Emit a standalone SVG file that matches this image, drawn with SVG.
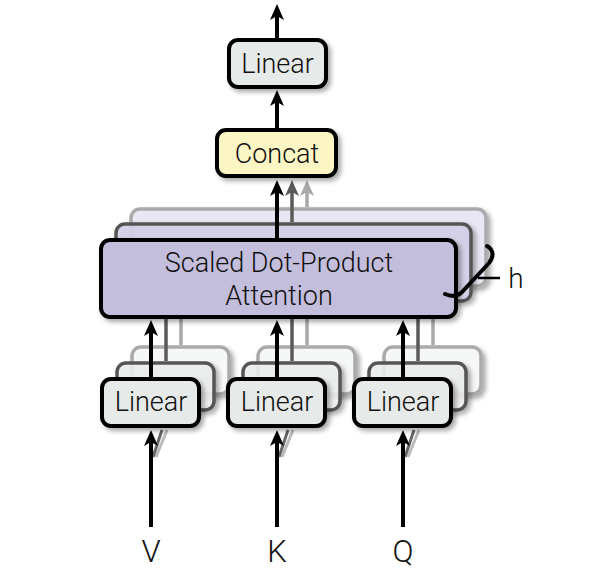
<svg xmlns="http://www.w3.org/2000/svg" width="598" height="584" viewBox="0 0 598 584">
<defs>
<filter id="sh" x="-10%" y="-10%" width="130%" height="140%">
<feGaussianBlur in="SourceAlpha" stdDeviation="2.5"/>
<feOffset dx="3" dy="3" result="b"/>
<feComponentTransfer><feFuncA type="linear" slope="0.35"/></feComponentTransfer>
<feMerge><feMergeNode/><feMergeNode in="SourceGraphic"/></feMerge>
</filter>
<marker id="ak" markerUnits="userSpaceOnUse" markerWidth="16" markerHeight="14" viewBox="0 -7 16 14" refX="8" refY="0" orient="auto"><path d="M0,-7 L16,0 L0,7 L4,0 Z" fill="#000"/></marker>
<marker id="ad" markerUnits="userSpaceOnUse" markerWidth="16" markerHeight="14" viewBox="0 -7 16 14" refX="8" refY="0" orient="auto"><path d="M0,-7 L16,0 L0,7 L4,0 Z" fill="#5a5a5a"/></marker>
<marker id="al" markerUnits="userSpaceOnUse" markerWidth="16" markerHeight="14" viewBox="0 -7 16 14" refX="8" refY="0" orient="auto"><path d="M0,-7 L16,0 L0,7 L4,0 Z" fill="#a8a8a8"/></marker>
</defs>
<style>
text{font-family:Roboto,"Liberation Sans",Arial,sans-serif;font-weight:300;fill:#111;text-anchor:middle}
.t{font-size:27px}
.lbl{font-size:31px}
.front{stroke:#000;stroke-width:4}
.mid{stroke:#555;stroke-width:3.5}
.back{stroke:#aaa;stroke-width:3.5}
.lin{fill:#e6ebe9}
.linm{fill:#eef1f0;fill-opacity:0.85}
.linb{fill:#f6f8f7}
.att{fill:#c4bedd}
.attm{fill:#d6d1ea;fill-opacity:0.9}
.attb{fill:#e9e7f3}
.k{stroke:#000;stroke-width:4;fill:none}
.d{stroke:#5a5a5a;stroke-width:3.5;fill:none}
.l{stroke:#a8a8a8;stroke-width:3.5;fill:none}
</style>
<rect width="598" height="584" fill="#fff"/>

<g id="attention-back">
<rect x="131" y="209" width="355" height="77" rx="9" class="back attb" filter="url(#sh)"/>
<rect x="116" y="224" width="355" height="77" rx="9" class="mid attm" filter="url(#sh)"/>
</g>

<g id="linear-back">
<rect x="132" y="347" width="97" height="47" rx="9" class="back linb" filter="url(#sh)"/>
<rect x="258" y="347" width="97" height="47" rx="9" class="back linb" filter="url(#sh)"/>
<rect x="384" y="347" width="97" height="47" rx="9" class="back linb" filter="url(#sh)"/>
<rect x="117" y="363" width="97" height="47" rx="9" class="mid linm" filter="url(#sh)"/>
<rect x="243" y="363" width="97" height="47" rx="9" class="mid linm" filter="url(#sh)"/>
<rect x="369" y="363" width="97" height="47" rx="9" class="mid linm" filter="url(#sh)"/>
</g>

<g id="connectors">
<path class="l" d="M181,345 V300"/>
<path class="d" d="M166,361 V300"/>
<path class="l" d="M307,345 V300"/>
<path class="d" d="M292,361 V300"/>
<path class="l" d="M433,345 V300"/>
<path class="d" d="M418,361 V300"/>
<path class="l" d="M307,207 V188" marker-end="url(#al)"/>
<path class="d" d="M292,222 V188" marker-end="url(#ad)"/>
<path class="k" d="M277,238 V188" marker-end="url(#ak)"/>
<path class="k" d="M277,128 V98" marker-end="url(#ak)"/>
<path class="k" d="M277,38 V12" marker-end="url(#ak)"/>
<path class="k" d="M151,377 V328" marker-end="url(#ak)"/>
<path class="k" d="M277,377 V328" marker-end="url(#ak)"/>
<path class="k" d="M403,377 V328" marker-end="url(#ak)"/>
<path d="M156,457 L167,430" stroke="#bbb" stroke-width="3" fill="none"/>
<path d="M153,457 L162,430" stroke="#666" stroke-width="3" fill="none"/>
<path d="M282,457 L293,430" stroke="#bbb" stroke-width="3" fill="none"/>
<path d="M279,457 L288,430" stroke="#666" stroke-width="3" fill="none"/>
<path d="M408,457 L419,430" stroke="#bbb" stroke-width="3" fill="none"/>
<path d="M405,457 L414,430" stroke="#666" stroke-width="3" fill="none"/>
<path class="k" d="M151,527 V438" marker-end="url(#ak)"/>
<path class="k" d="M277,527 V438" marker-end="url(#ak)"/>
<path class="k" d="M403,527 V438" marker-end="url(#ak)"/>
</g>

<g id="attention">
<rect x="101" y="240" width="355" height="77" rx="9" class="front att" filter="url(#sh)"/>
<text class="t" x="279" y="272">Scaled Dot-Product</text>
<text class="t" x="279" y="305">Attention</text>
</g>

<g id="h-brace">
<path class="k" d="M487,246 C494,250 494,257 489,263 L463,291 C458,297 452,297 445,294" stroke-linecap="round"/>
<path d="M478,278 H500" stroke="#000" stroke-width="2.5"/>
<text x="516" y="288" style="font-size:28px">h</text>
</g>

<g id="linear-v">
<rect x="102" y="379" width="97" height="47" rx="9" class="front lin" filter="url(#sh)"/>
<text class="t" x="151" y="411">Linear</text>
</g>
<g id="linear-k">
<rect x="228" y="379" width="97" height="47" rx="9" class="front lin" filter="url(#sh)"/>
<text class="t" x="277" y="411">Linear</text>
</g>
<g id="linear-q">
<rect x="354" y="379" width="97" height="47" rx="9" class="front lin" filter="url(#sh)"/>
<text class="t" x="403" y="411">Linear</text>
</g>

<g id="concat">
<rect x="217" y="130" width="119" height="46" rx="9" class="front" fill="#fcf6c4" filter="url(#sh)"/>
<text class="t" x="277" y="163">Concat</text>
</g>

<g id="linear-out">
<rect x="229" y="40" width="97" height="47" rx="9" class="front lin" filter="url(#sh)"/>
<text class="t" x="277.5" y="73">Linear</text>
</g>

<g id="inputs">
<text class="lbl" x="151" y="562">V</text>
<text class="lbl" x="277" y="562">K</text>
<text class="lbl" x="403" y="562">Q</text>
</g>
</svg>
